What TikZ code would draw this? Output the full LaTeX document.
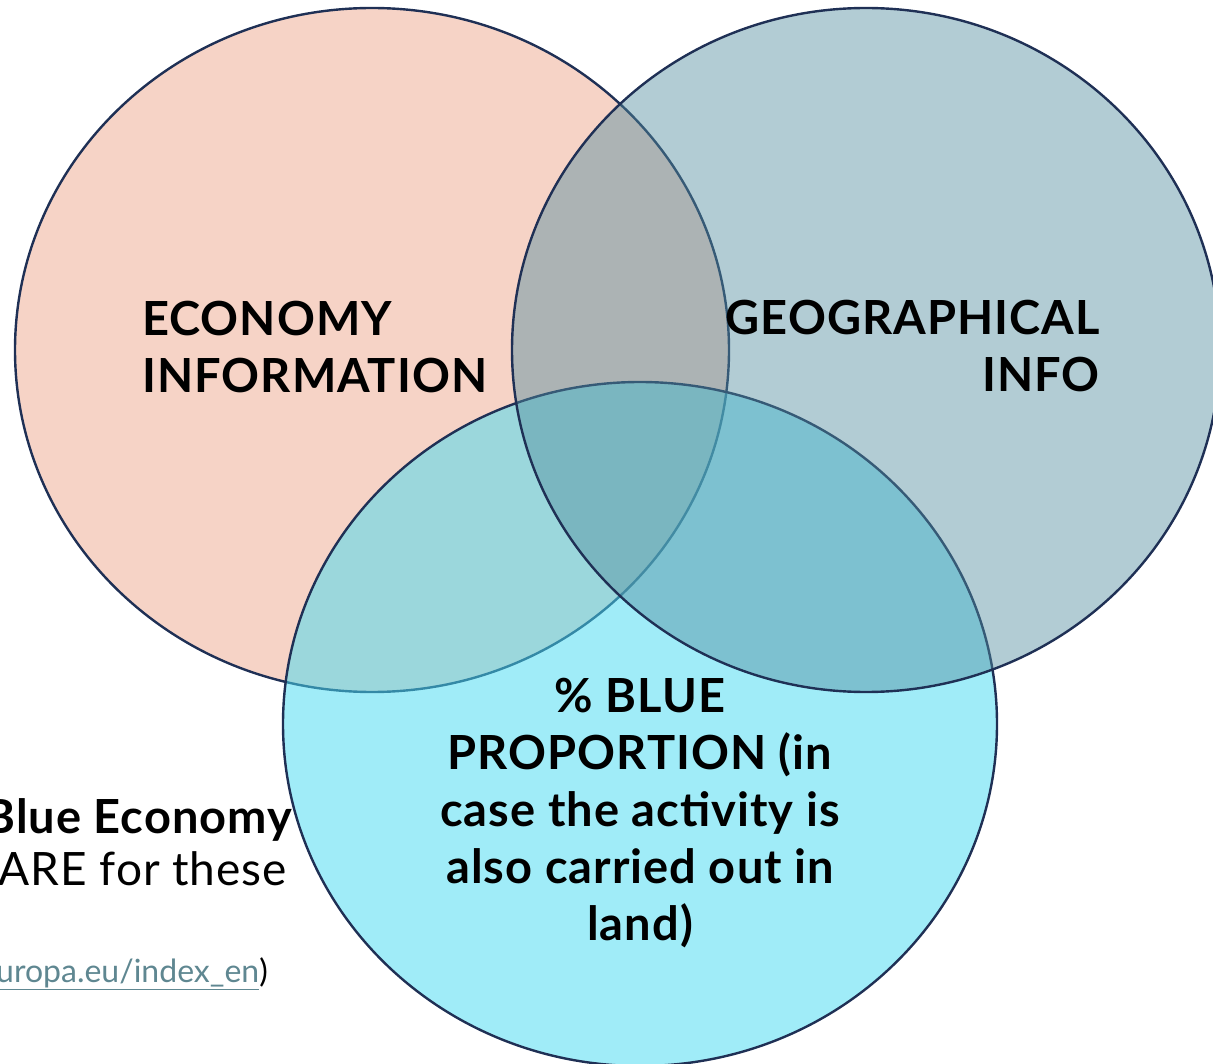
\documentclass[tikz,border=0pt]{standalone}
\usepackage{fontspec}
\setmainfont{Lato}
\definecolor{econfill}{RGB}{246,211,198}
\definecolor{geofill}{RGB}{84,142,160}
\definecolor{bluefill}{RGB}{73,219,242}
\definecolor{rim}{RGB}{31,48,85}
\definecolor{linkcol}{RGB}{95,135,145}
\begin{document}
\begin{tikzpicture}[x=1pt,y=-1pt,
  rimline/.style={draw=rim,line width=2.4pt},
  bigtxt/.style={font=\bfseries\fontsize{47}{57}\selectfont\addfontfeature{LetterSpace=2.2},inner sep=0pt},
  backtxt/.style={anchor=base east,inner sep=0pt}]
\useasboundingbox (0,0) rectangle (1213,1064);
\clip (0,0) rectangle (1213,1064);
% text of the slide behind
\node[backtxt,font=\bfseries\fontsize{47}{52}\selectfont\addfontfeature{LetterSpace=2}] (bluetitle) at (292,833) {Blue Economy};
\node[backtxt,font=\fontsize{46}{52}\selectfont\addfontfeature{LetterSpace=2}] (share) at (287,885) {ARE for these};
\node[backtxt,font=\fontsize{32}{36}\selectfont] (link) at (268,982) {\textcolor{linkcol}{\underline{uropa.eu/index\_en}})};
% the three sets
\draw[rimline,fill=econfill] (372,350) ellipse (357pt and 342pt);
\draw[rimline,fill=bluefill,fill opacity=.52] (640,724) ellipse (357pt and 342pt);
\draw[rimline,fill=geofill,fill opacity=.45] (866,350) ellipse (354pt and 342pt);
% labels
\node[bigtxt,align=left,anchor=north west] (econ) at (142,301) {ECONOMY\\INFORMATION};
\node[bigtxt,align=right,anchor=north east] (geo) at (1100,300) {GEOGRAPHICAL\\INFO};
\node[bigtxt,align=center,anchor=north] (blue) at (640,678) {\% BLUE\\PROPORTION (in\\case the activity is\\also carried out in\\land)};
\end{tikzpicture}
\end{document}
